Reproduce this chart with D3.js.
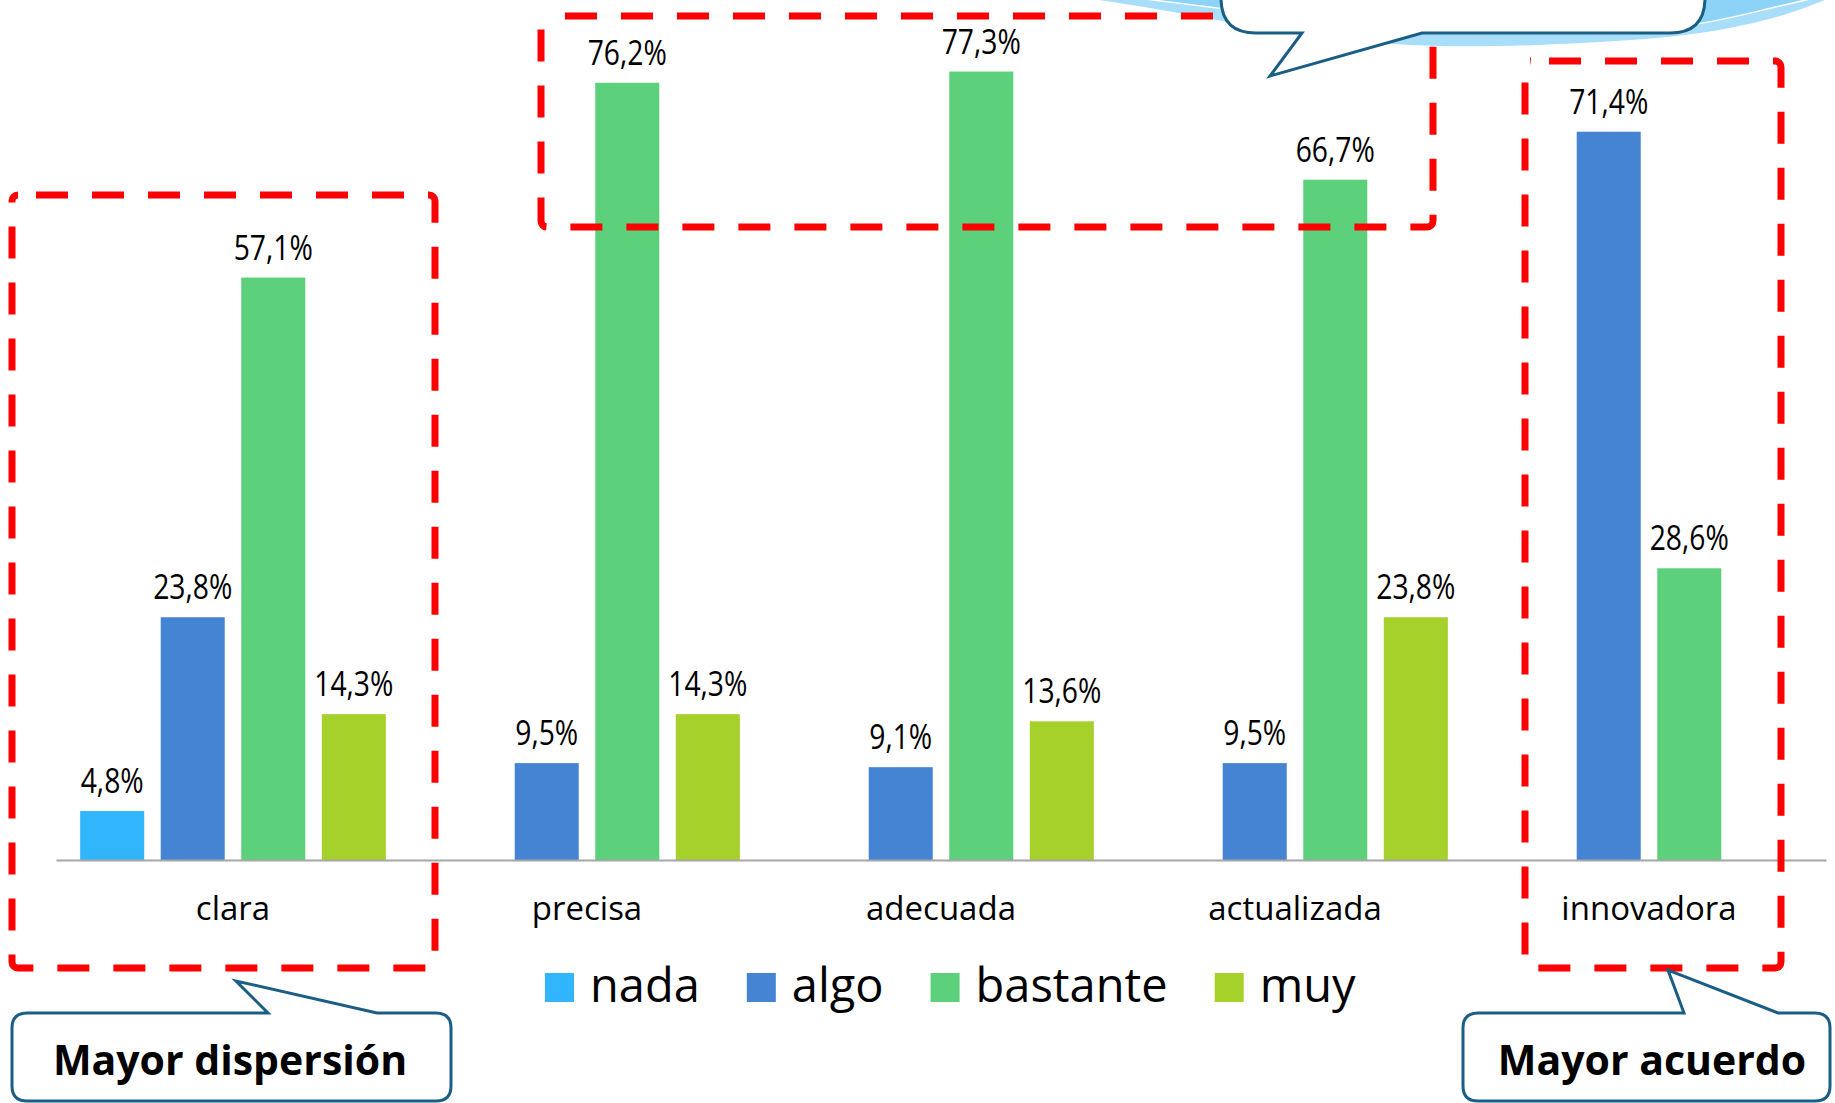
<!DOCTYPE html>
<html><head><meta charset="utf-8">
<script src="https://cdn.jsdelivr.net/npm/d3@7"></script>
<style>body{margin:0;background:#fff}svg{display:block}</style>
</head><body><svg id="c" width="1835" height="1103"></svg>
<script>
const categories = ["clara", "precisa", "adecuada", "actualizada", "innovadora"];
const seriesNames = ["nada", "algo", "bastante", "muy"];
const nada = [4.8, null, null, null, null];
const algo = [23.8, 9.5, 9.1, 9.5, 71.4];
const bastante = [57.1, 76.2, 77.3, 66.7, 28.6];
const muy = [14.3, 14.3, 13.6, 23.8, null];
const seriesColors = ["#31B6FD", "#4584D3", "#5CD07A", "#A6D02A"];
const calloutTexts = ["Mayor dispersión", "Mayor acuerdo"];

const seriesValues = [nada, algo, bastante, muy];
const svg = d3.select("#c");
svg.append("rect").attr("width", 1835).attr("height", 1103).attr("fill", "#fff");

const x0 = d3.scaleBand().domain(categories).range([56, 1826]).paddingInner(0).paddingOuter(0);
const x1 = d3.scaleBand().domain(seriesNames).range([0, x0.bandwidth()]).paddingInner(0.205).paddingOuter(0.3);
const y = d3.scaleLinear().domain([0, 80]).range([860, 44]);
const fmt = v => d3.format(".1f")(v).replace(".", ",") + "%";

const data = [];
categories.forEach((c, i) => seriesNames.forEach((s, j) => {
  const v = seriesValues[j][i];
  if (v != null) data.push({c, s, v, color: seriesColors[j]});
}));

// decoration: light blue shape behind the top callout
const deco = svg.append("g");
const outerPts = [[1085, -2], [1150, 8], [1217, 20], [1330, 38], [1440, 46], [1580, 43], [1700, 33], [1780, 16], [1830, -2]];
const innerPts = [[1120, -4], [1217, 8], [1330, 24], [1440, 32], [1580, 31], [1690, 25], [1780, 6], [1830, -6]];
const curve = d3.line().curve(d3.curveCatmullRom);
deco.append("path").attr("d", curve(outerPts) + "L1835,-10L1080,-10Z").attr("fill", "#A9DEFA");
deco.append("path").attr("d", curve(innerPts) + "L1835,-10L1110,-10Z").attr("fill", "#8DD3F8");
deco.append("path").attr("d", curve(innerPts)).attr("fill", "none").attr("stroke", "#ffffff").attr("stroke-width", 1.5);

// bars
svg.append("g").selectAll("rect").data(data).join("rect")
  .attr("x", d => x0(d.c) + x1(d.s))
  .attr("width", x1.bandwidth())
  .attr("y", d => y(d.v))
  .attr("height", d => y(0) - y(d.v))
  .attr("fill", d => d.color);

// value labels
svg.append("g").selectAll("text").data(data).join("text")
  .attr("transform", d => `translate(${x0(d.c) + x1(d.s) + x1.bandwidth() / 2},${y(d.v) - 18}) scale(0.82,1)`)
  .attr("text-anchor", "middle")
  .attr("font-family", "Open Sans")
  .attr("font-size", 34.5)
  .attr("fill", "#000")
  .text(d => fmt(d.v));

// axis
const axis = svg.append("g").attr("transform", `translate(0,${y(0)})`)
  .call(d3.axisBottom(x0).tickSize(0).tickSizeOuter(0));
axis.select(".domain").attr("stroke", "#A6A6A6").attr("stroke-width", 2);
axis.selectAll("text").attr("dy", null).attr("y", 60)
  .attr("font-family", "Open Sans").attr("font-size", 33).attr("fill", "#000");

// legend
const legend = svg.append("g");
let lx = 545;
seriesNames.forEach((s, j) => {
  legend.append("rect").attr("x", lx).attr("y", 973).attr("width", 29).attr("height", 29).attr("fill", seriesColors[j]);
  const t = legend.append("text").attr("x", lx + 45).attr("y", 1002)
    .attr("font-family", "Open Sans").attr("font-size", 47).attr("fill", "#000").text(s);
  lx += 45 + t.node().getComputedTextLength() + 47;
});

// red dashed highlight boxes
const boxes = [[12, 195, 435, 968], [541, 16, 1433, 227], [1525, 61, 1781, 968]];
svg.append("g").selectAll("rect").data(boxes).join("rect")
  .attr("x", d => d[0]).attr("y", d => d[1])
  .attr("width", d => d[2] - d[0]).attr("height", d => d[3] - d[1])
  .attr("rx", 6)
  .attr("fill", "none").attr("stroke", "#FF0000").attr("stroke-width", 7)
  .attr("stroke-dasharray", "32,24").attr("stroke-dashoffset", 38);

// callouts
const cs = "#1B5E85";
svg.append("path")
  .attr("d", "M1221,-100L1705,-100L1705,-2Q1705,33 1670,33L1422,33L1270,76L1302,33L1256,33Q1221,33 1221,-2Z")
  .attr("fill", "#fff").attr("stroke", cs).attr("stroke-width", 3);
svg.append("path")
  .attr("d", "M27,1013L268,1013L236,981L377,1013L436,1013Q451,1013 451,1028L451,1086Q451,1101 436,1101L27,1101Q12,1101 12,1086L12,1028Q12,1013 27,1013Z")
  .attr("fill", "#fff").attr("stroke", cs).attr("stroke-width", 3);
svg.append("path")
  .attr("d", "M1478,1013L1684,1013L1668,970L1778,1013L1815,1013Q1830,1013 1830,1028L1830,1086Q1830,1101 1815,1101L1478,1101Q1463,1101 1463,1086L1463,1028Q1463,1013 1478,1013Z")
  .attr("fill", "#fff").attr("stroke", cs).attr("stroke-width", 3);
const cpos = [[230, 1075], [1652, 1075]];
svg.append("g").selectAll("text").data(calloutTexts).join("text")
  .attr("x", (d, i) => cpos[i][0]).attr("y", (d, i) => cpos[i][1])
  .attr("text-anchor", "middle")
  .attr("font-family", "Open Sans").attr("font-weight", "bold").attr("font-size", 41)
  .attr("fill", "#000").text(d => d);
</script></body></html>
